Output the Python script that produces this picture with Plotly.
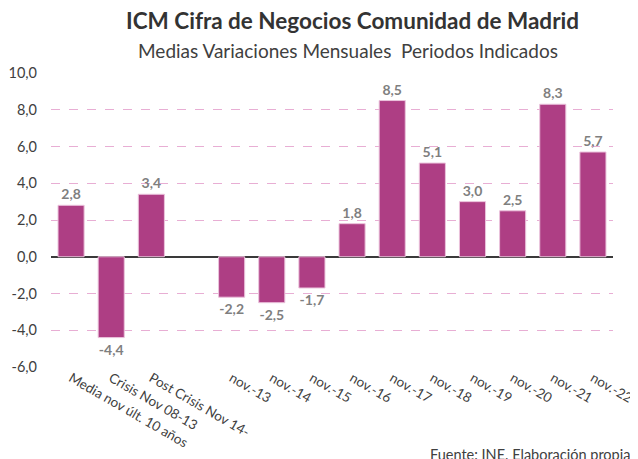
import plotly.graph_objects as go

categories = ["Media nov últ. 10 años", "Crisis Nov 08-13", "Post Crisis Nov 14-", " ",
              "nov.-13", "nov.-14", "nov.-15", "nov.-16", "nov.-17", "nov.-18",
              "nov.-19", "nov.-20", "nov.-21", "nov.-22"]
values = [2.8, -4.4, 3.4, None, -2.2, -2.5, -1.7, 1.8, 8.5, 5.1, 3.0, 2.5, 8.3, 5.7]
labels = ["" if v is None else f"{v:.1f}".replace(".", ",") for v in values]
y_ticks = [-6, -4, -2, 0, 2, 4, 6, 8, 10]
y_tick_text = [f"{t:.1f}".replace(".", ",") for t in y_ticks]

fig = go.Figure(go.Bar(
    x=categories, y=values, text=labels, textposition="outside",
    textfont=dict(family="Lato, Open Sans, sans-serif", size=14, color="#7F7F7F"),
    texttemplate="<b>%{text}</b>",
    marker=dict(color="#AE3E84", line=dict(color="#EBC3DC", width=1)),
    cliponaxis=False,
))

# the page body adds an 8px offset; size the figure to fit the 638x459 window
fig.update_layout(
    width=630, height=451,
    margin=dict(l=43, r=25, t=65, b=92),
    paper_bgcolor="white", plot_bgcolor="white",
    bargap=0.35, showlegend=False,
    font=dict(family="Lato, Open Sans, sans-serif", color="#404040"),
    annotations=[
        dict(text="<b>ICM Cifra de Negocios Comunidad de Madrid</b>", x=(352 - 51) / 562, y=1.0,
             xref="paper", yref="paper", xanchor="center", yanchor="middle",
             showarrow=False, font=dict(size=22.5, color="#333333"), yshift=53),
        dict(text="Medias Variaciones Mensuales  Periodos Indicados", x=(348 - 51) / 562, y=1.0,
             xref="paper", yref="paper", xanchor="center", yanchor="middle",
             showarrow=False, font=dict(size=19, color="#404040"), yshift=23),
        dict(text="Fuente: INE. Elaboración propia", x=1.0, y=0, xref="paper",
             yref="paper", xanchor="right", yanchor="top", showarrow=False,
             font=dict(size=14.5, color="#404040"), yshift=-77, xshift=19),
    ],
)

fig.update_xaxes(type="category", tickangle=30, showline=False, ticks="",
                 automargin=False, tickfont=dict(size=13.5, color="#404040"))
fig.update_yaxes(range=[-6, 10], tickvals=y_ticks, ticktext=y_tick_text, automargin=False,
                 showgrid=True, gridcolor="#E8AED4", griddash="dash", gridwidth=1,
                 zeroline=True, zerolinecolor="#3A3A3A", zerolinewidth=1.5,
                 tickfont=dict(size=14.5, color="#404040"), ticks="", ticklabelstandoff=13)

fig.write_html("out.html")
